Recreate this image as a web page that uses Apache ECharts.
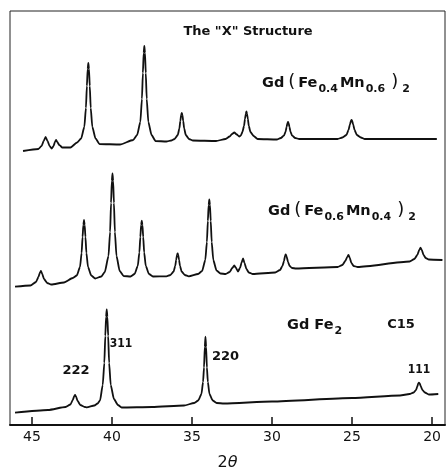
<!DOCTYPE html>
<html>
<head>
<meta charset="utf-8">
<script src="https://cdn.jsdelivr.net/npm/echarts@6/dist/echarts.min.js"></script>
<style>
  html, body { margin: 0; padding: 0; background: #fff; }
  #main { width: 446px; height: 467px; }
</style>
</head>
<body>
<div id="main"></div>
<script>
// 2-theta ticks
var ticks = [20, 25, 30, 35, 40, 45]

// Gd(Fe0.4Mn0.6)2 : [2theta, intensity a.u.]
var feMn46 = [
  [45.56, 274], [44.6, 276], [44.4, 279], [44.27, 284], [44.15, 288], [44.03, 284], [43.9, 279],
  [43.77, 276.5], [43.65, 279], [43.57, 283], [43.5, 285], [43.42, 283], [43.3, 280], [43.1, 277.5],
  [42.6, 277.5], [42.18, 282.5], [41.93, 286.5], [41.73, 298], [41.63, 317], [41.57, 339], [41.52, 356],
  [41.48, 362], [41.44, 356], [41.39, 339], [41.33, 317], [41.23, 298], [41.03, 286.5], [40.78, 281],
  [39.5, 280.5], [38.68, 285], [38.43, 290], [38.23, 303], [38.13, 326], [38.07, 352], [38.02, 372],
  [37.98, 379], [37.94, 372], [37.89, 352], [37.83, 326], [37.73, 303], [37.53, 290], [37.28, 284],
  [36.6, 283.5], [36.3, 284.5], [36.09, 286], [35.89, 290], [35.79, 296.5], [35.73, 304], [35.68, 310],
  [35.64, 312], [35.6, 310], [35.55, 304], [35.49, 296.5], [35.39, 290], [35.19, 286], [34.94, 284.5],
  [33.5, 284], [32.9, 286], [32.65, 288.5], [32.5, 291], [32.36, 292.5], [32.2, 290.5], [32.05, 288.5],
  [31.95, 289.5], [31.85, 293], [31.75, 299], [31.69, 306], [31.64, 311], [31.6, 313.5], [31.56, 311],
  [31.51, 306], [31.45, 299], [31.35, 293], [31.15, 289], [30.9, 286], [29.7, 285.5], [29.45, 287],
  [29.25, 289.5], [29.15, 293.5], [29.09, 298], [29.04, 301.5], [29.0, 303], [28.96, 301.5], [28.91, 298],
  [28.85, 293.5], [28.75, 289.5], [28.55, 287], [28.3, 286], [25.9, 286], [25.6, 287.5], [25.35, 290],
  [25.22, 295], [25.13, 300.5], [25.07, 304], [25.03, 305], [24.99, 304], [24.93, 300.5], [24.84, 295],
  [24.7, 290], [24.45, 287.5], [24.2, 286], [19.7, 286]
]

// Gd(Fe0.6Mn0.4)2
var feMn64 = [
  [46.06, 138.3], [45.1, 139.5], [44.75, 143], [44.6, 148], [44.5, 152.5], [44.44, 154], [44.36, 151],
  [44.25, 146], [44.05, 142], [43.8, 140.5], [43.0, 142.5], [42.45, 147], [42.2, 149.5], [42.0, 158],
  [41.9, 172], [41.84, 188], [41.79, 200], [41.75, 205], [41.71, 200], [41.66, 188], [41.6, 172],
  [41.5, 158], [41.3, 149.5], [41.05, 146.5], [40.67, 148.5], [40.45, 153], [40.22, 169], [40.12, 193],
  [40.06, 222], [40.01, 244], [39.97, 251.7], [39.93, 244], [39.88, 222], [39.82, 193], [39.72, 169],
  [39.52, 154], [39.27, 149], [38.84, 148.5], [38.59, 151], [38.39, 159], [38.29, 172.5], [38.23, 188],
  [38.18, 200], [38.14, 204.3], [38.1, 200], [38.05, 188], [37.99, 172.5], [37.89, 159], [37.69, 151],
  [37.44, 148.5], [36.6, 148.7], [36.35, 150], [36.15, 153.5], [36.05, 159], [35.99, 165], [35.94, 170],
  [35.9, 171.7], [35.86, 170], [35.81, 165], [35.75, 159], [35.65, 153.5], [35.45, 150], [35.2, 148.7],
  [34.62, 151], [34.37, 154], [34.17, 165], [34.07, 183], [34.01, 204], [33.96, 220], [33.92, 225.5],
  [33.88, 220], [33.83, 204], [33.77, 183], [33.67, 165], [33.47, 154.5], [33.22, 151.5], [32.9, 151],
  [32.65, 153], [32.48, 157], [32.36, 159.5], [32.25, 157], [32.13, 153.5], [32.0, 157], [31.9, 162.5],
  [31.81, 166.5], [31.72, 162], [31.6, 156], [31.45, 152.5], [31.2, 151], [29.8, 152.5], [29.5, 155],
  [29.35, 159], [29.25, 164], [29.19, 169], [29.14, 170.7], [29.08, 168], [29.0, 163], [28.9, 159],
  [28.75, 157], [28.5, 156.5], [25.9, 158], [25.6, 160], [25.42, 164], [25.3, 168], [25.22, 170],
  [25.14, 167], [25.04, 162], [24.9, 159], [24.65, 158], [21.4, 163.5], [21.1, 166], [20.92, 170],
  [20.8, 175], [20.72, 177.3], [20.64, 175], [20.53, 170], [20.4, 167], [20.2, 165.5], [19.35, 165]
]

// GdFe2 (C15)
var gdFe2 = [
  [46.06, 12.3], [44.0, 15], [42.9, 18], [42.6, 20.5], [42.45, 25], [42.36, 29], [42.31, 30],
  [42.25, 28.5], [42.15, 24], [41.98, 20], [41.7, 18], [41.58, 17.7], [41.1, 19.5], [40.9, 21.5],
  [40.75, 24.5], [40.58, 40], [40.48, 62], [40.42, 89], [40.37, 108], [40.33, 115.7], [40.29, 108],
  [40.24, 89], [40.18, 62], [40.08, 40], [39.88, 26], [39.63, 20], [39.4, 17.5], [37.5, 18],
  [35.5, 19.5], [34.86, 22], [34.61, 24.5], [34.41, 31], [34.31, 43], [34.25, 57.5], [34.2, 78],
  [34.16, 88.3], [34.12, 78], [34.07, 57.5], [34.01, 43], [33.91, 31], [33.71, 24.5], [33.46, 22],
  [33.0, 21.5], [30.0, 23.5], [25.0, 27], [22.0, 29.5], [21.4, 31], [21.15, 32.5], [21.0, 35],
  [20.92, 38.5], [20.86, 41.5], [20.82, 42.3], [20.77, 41.5], [20.7, 38.5], [20.6, 35], [20.45, 32.5],
  [20.2, 30.5], [19.61, 31]
]

var ink = '#111'

var chart = echarts.init(document.getElementById('main'))

function curve(name, data) {
  return {
    name: name,
    type: 'line',
    data: data,
    symbol: 'none',
    smooth: 0.2,
    smoothMonotone: 'x',
    lineStyle: { color: ink, width: 1.8 },
    silent: true,
    animation: false
  }
}

function formula(x, y, parts) {
  return {
    type: 'text',
    left: x,
    top: y,
    style: {
      text: parts,
      fill: ink,
      rich: {
        m: { fontSize: 14.5, fontWeight: 'bold', fontFamily: 'DejaVu Sans', verticalAlign: 'top', lineHeight: 16 },
        p: { fontSize: 18, fontFamily: 'DejaVu Sans', verticalAlign: 'top', lineHeight: 16, padding: [-3, 3, 0, 4] },
        s: { fontSize: 11, fontWeight: 'bold', fontFamily: 'DejaVu Sans', verticalAlign: 'top', lineHeight: 16, padding: [8, 2, 0, 1] }
      }
    }
  }
}

function tag(x, y, txt, size, family) {
  return {
    type: 'text',
    x: x,
    y: y,
    style: {
      text: txt,
      fill: ink,
      font: 'bold ' + (size || 12) + 'px ' + (family || '"DejaVu Sans"') + ', sans-serif',
      align: 'center',
      verticalAlign: 'middle'
    }
  }
}

var option = {
  animation: false,
  grid: {
    left: 10,
    right: 1,
    top: 11,
    bottom: 42,
    containLabel: false,
    outerBoundsMode: 'none',
    show: true,
    borderColor: '#222',
    borderWidth: 1
  },
  xAxis: {
    type: 'value',
    inverse: true,
    min: 19.19,
    max: 46.375,
    name: '{a|2}{b|θ}',
    nameLocation: 'middle',
    nameGap: 30,
    nameTextStyle: {
      color: ink,
      rich: {
        a: { fontSize: 16, fontFamily: 'DejaVu Sans', color: ink },
        b: { fontSize: 16, fontFamily: 'DejaVu Sans', fontStyle: 'italic', color: ink }
      }
    },
    axisLine: { lineStyle: { color: ink, width: 2 } },
    axisTick: { inside: true, length: 8, customValues: ticks, lineStyle: { color: ink, width: 1.5 } },
    axisLabel: { customValues: ticks, color: ink, fontSize: 14, margin: 5, fontFamily: 'DejaVu Sans' },
    splitLine: { show: false }
  },
  yAxis: {
    type: 'value',
    min: 0,
    max: 414,
    show: false
  },
  graphic: [
    tag(248, 32, 'The "X" Structure', 13),
    formula(262, 73, '{m|Gd}{p|(}{m|Fe}{s|0.4}{m|Mn}{s|0.6}{p|)}{s|2}'),
    formula(268, 201, '{m|Gd}{p|(}{m|Fe}{s|0.6}{m|Mn}{s|0.4}{p|)}{s|2}'),
    formula(287, 318, '{m|Gd Fe}{s|2}'),
    tag(401, 325, 'C15', 13),
    tag(121, 344, '311', 12, '"DejaVu Sans Condensed"'),
    tag(225.5, 357, '220', 13),
    tag(76, 371, '222', 13),
    tag(419, 369.5, '111', 12, '"DejaVu Sans Condensed"')
  ],
  series: [
    curve('Gd(Fe0.4Mn0.6)2', feMn46),
    curve('Gd(Fe0.6Mn0.4)2', feMn64),
    curve('GdFe2', gdFe2)
  ]
}

chart.setOption(option)
</script>
</body>
</html>
